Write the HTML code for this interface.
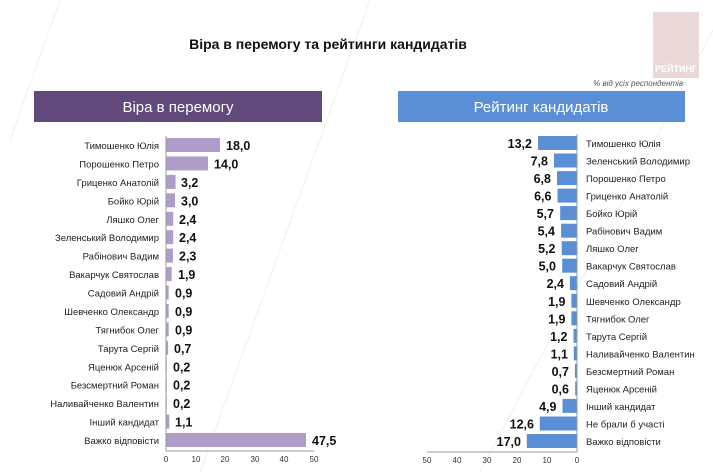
<!DOCTYPE html>
<html><head><meta charset="utf-8"><style>
body{margin:0;background:#fff;}
svg{display:block;font-family:"Liberation Sans",sans-serif;}
.l{font-size:9.5px;fill:#222;}
.v{font-size:12.5px;font-weight:bold;fill:#111;}
.t{font-size:8px;fill:#333;}
</style></head><body>
<svg width="713" height="472" viewBox="0 0 713 472">
<rect width="713" height="472" fill="#fff"/>
<g stroke="#f0f0f0" stroke-width="1">
<line x1="10" y1="140" x2="60" y2="0"/><line x1="200" y1="472" x2="370" y2="0"/><line x1="480" y1="472" x2="713" y2="30"/>
</g>
<text x="328" y="49" text-anchor="middle" font-size="14" font-weight="bold" fill="#111">Віра в перемогу та рейтинги кандидатів</text>
<rect x="653" y="12" width="46" height="66" fill="#ead8d8"/>
<text x="676" y="72" text-anchor="middle" font-size="9" font-weight="bold" fill="#fff">РЕЙТИНГ</text>
<text x="683" y="86" text-anchor="end" font-size="8" font-style="italic" fill="#555">% від усіх респондентів</text>
<rect x="34" y="91" width="288" height="31" fill="#614a7b"/>
<text x="178" y="112" text-anchor="middle" font-size="15" fill="#fff">Віра в перемогу</text>
<rect x="398" y="91" width="287" height="31" fill="#5a8fd6"/>
<text x="541" y="112" text-anchor="middle" font-size="15" fill="#fff">Рейтинг кандидатів</text>

<!-- left chart -->
<g fill="#b09cc8">
<rect x="166" y="138" width="54" height="14"/>
<rect x="166" y="156.4" width="42" height="14"/>
<rect x="166" y="174.9" width="9.6" height="14"/>
<rect x="166" y="193.3" width="9" height="14"/>
<rect x="166" y="211.8" width="7.2" height="14"/>
<rect x="166" y="230.2" width="7.2" height="14"/>
<rect x="166" y="248.6" width="6.9" height="14"/>
<rect x="166" y="267.1" width="5.7" height="14"/>
<rect x="166" y="285.5" width="2.7" height="14"/>
<rect x="166" y="304" width="2.7" height="14"/>
<rect x="166" y="322.4" width="2.7" height="14"/>
<rect x="166" y="340.8" width="2.1" height="14"/>
<rect x="166" y="359.3" width="0.8" height="14"/>
<rect x="166" y="377.7" width="0.8" height="14"/>
<rect x="166" y="396.2" width="0.8" height="14"/>
<rect x="166" y="414.6" width="3.3" height="14"/>
<rect x="166" y="433" width="140" height="14"/>
</g>
<line x1="166" y1="136" x2="166" y2="451" stroke="#999"/>
<line x1="166" y1="451" x2="314" y2="451" stroke="#999"/>
<g class="l" text-anchor="end">
<text x="159" y="149">Тимошенко Юлія</text>
<text x="159" y="167.4">Порошенко Петро</text>
<text x="159" y="185.9">Гриценко Анатолій</text>
<text x="159" y="204.3">Бойко Юрій</text>
<text x="159" y="222.8">Ляшко Олег</text>
<text x="159" y="241.2">Зеленський Володимир</text>
<text x="159" y="259.6">Рабінович Вадим</text>
<text x="159" y="278.1">Вакарчук Святослав</text>
<text x="159" y="296.5">Садовий Андрій</text>
<text x="159" y="315">Шевченко Олександр</text>
<text x="159" y="333.4">Тягнибок Олег</text>
<text x="159" y="351.8">Тарута Сергій</text>
<text x="159" y="370.3">Яценюк Арсеній</text>
<text x="159" y="388.7">Безсмертний Роман</text>
<text x="159" y="407.2">Наливайченко Валентин</text>
<text x="159" y="425.6">Інший кандидат</text>
<text x="159" y="444">Важко відповісти</text>
</g>
<g class="v">
<text x="226" y="150">18,0</text>
<text x="214" y="168.4">14,0</text>
<text x="181" y="186.9">3,2</text>
<text x="181" y="205.3">3,0</text>
<text x="179" y="223.8">2,4</text>
<text x="179" y="242.2">2,4</text>
<text x="179" y="260.6">2,3</text>
<text x="178" y="279.1">1,9</text>
<text x="175" y="297.5">0,9</text>
<text x="175" y="316">0,9</text>
<text x="175" y="334.4">0,9</text>
<text x="174" y="352.8">0,7</text>
<text x="173" y="371.3">0,2</text>
<text x="173" y="389.7">0,2</text>
<text x="173" y="408.2">0,2</text>
<text x="175" y="426.6">1,1</text>
<text x="312" y="445">47,5</text>
</g>
<g class="t" text-anchor="middle">
<text x="166" y="462">0</text><text x="196" y="462">10</text><text x="225" y="462">20</text><text x="255" y="462">30</text><text x="284" y="462">40</text><text x="314" y="462">50</text>
</g>

<!-- right chart -->
<g fill="#5a8fd6">
<rect x="538" y="136" width="39" height="14"/>
<rect x="554" y="153.5" width="23" height="14"/>
<rect x="557" y="171.1" width="20" height="14"/>
<rect x="557.5" y="188.6" width="19.5" height="14"/>
<rect x="560.2" y="206.1" width="16.8" height="14"/>
<rect x="561.1" y="223.7" width="15.9" height="14"/>
<rect x="561.7" y="241.2" width="15.3" height="14"/>
<rect x="562.2" y="258.7" width="14.8" height="14"/>
<rect x="569.9" y="276.2" width="7.1" height="14"/>
<rect x="571.4" y="293.8" width="5.6" height="14"/>
<rect x="571.4" y="311.3" width="5.6" height="14"/>
<rect x="573.5" y="328.8" width="3.5" height="14"/>
<rect x="573.8" y="346.4" width="3.2" height="14"/>
<rect x="574.9" y="363.9" width="2.1" height="14"/>
<rect x="575.2" y="381.4" width="1.8" height="14"/>
<rect x="562.5" y="398.9" width="14.5" height="14"/>
<rect x="539.8" y="416.5" width="37.2" height="14"/>
<rect x="526.8" y="434" width="50.2" height="14"/>
</g>
<line x1="577" y1="134" x2="577" y2="452" stroke="#999"/>
<line x1="427" y1="452" x2="577" y2="452" stroke="#999"/>
<g class="l">
<text x="586" y="147">Тимошенко Юлія</text>
<text x="586" y="164.5">Зеленський Володимир</text>
<text x="586" y="182.1">Порошенко Петро</text>
<text x="586" y="199.6">Гриценко Анатолій</text>
<text x="586" y="217.1">Бойко Юрій</text>
<text x="586" y="234.7">Рабінович Вадим</text>
<text x="586" y="252.2">Ляшко Олег</text>
<text x="586" y="269.7">Вакарчук Святослав</text>
<text x="586" y="287.2">Садовий Андрій</text>
<text x="586" y="304.8">Шевченко Олександр</text>
<text x="586" y="322.3">Тягнибок Олег</text>
<text x="586" y="339.8">Тарута Сергій</text>
<text x="586" y="357.4">Наливайченко Валентин</text>
<text x="586" y="374.9">Безсмертний Роман</text>
<text x="586" y="392.4">Яценюк Арсеній</text>
<text x="586" y="409.9">Інший кандидат</text>
<text x="586" y="427.5">Не брали б участі</text>
<text x="586" y="445">Важко відповісти</text>
</g>
<g class="v" text-anchor="end">
<text x="532" y="148">13,2</text>
<text x="548" y="165.5">7,8</text>
<text x="551" y="183.1">6,8</text>
<text x="551.5" y="200.6">6,6</text>
<text x="554" y="218.1">5,7</text>
<text x="555" y="235.7">5,4</text>
<text x="555.5" y="253.2">5,2</text>
<text x="556" y="270.7">5,0</text>
<text x="564" y="288.2">2,4</text>
<text x="565.5" y="305.8">1,9</text>
<text x="565.5" y="323.3">1,9</text>
<text x="567.5" y="340.8">1,2</text>
<text x="568" y="358.4">1,1</text>
<text x="569" y="375.9">0,7</text>
<text x="569" y="393.4">0,6</text>
<text x="556.5" y="410.9">4,9</text>
<text x="534" y="428.5">12,6</text>
<text x="521" y="446">17,0</text>
</g>
<g class="t" text-anchor="middle">
<text x="427" y="463">50</text><text x="457" y="463">40</text><text x="487" y="463">30</text><text x="517" y="463">20</text><text x="547" y="463">10</text><text x="577" y="463">0</text>
</g>
</svg>
</body></html>
